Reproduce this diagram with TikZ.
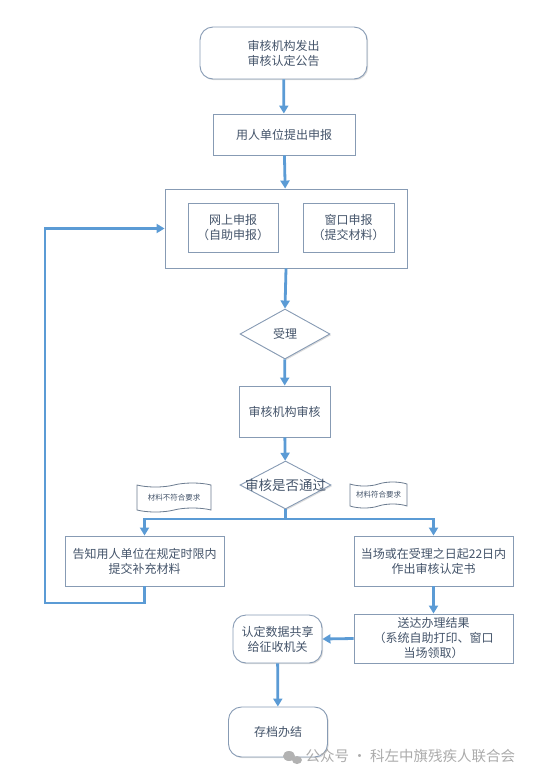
\documentclass[tikz,border=0pt]{standalone}
\usepackage{fontspec}
\setmainfont{Noto Sans CJK SC}
\usetikzlibrary{arrows.meta,shapes.geometric,shapes.symbols,shadows}
\definecolor{boxline}{RGB}{135,155,180}
\definecolor{flowblue}{RGB}{91,155,213}
\definecolor{boxtext}{RGB}{68,84,106}

\tikzset{
  box/.style={draw=boxline, line width=0.9pt, fill=white, text=boxtext, align=center,
    inner sep=0pt, font=\fontsize{12}{15}\selectfont,
    drop shadow={shadow xshift=1.2pt, shadow yshift=-1.2pt, fill=black!30, opacity=0.45}},
  roundbox/.style={box, rounded corners=13pt},
  decision/.style={box, diamond, aspect=1.8},
  tag/.style={draw=boxline!80!black, line width=0.8pt, fill=white, text=boxtext, tape,
    tape bend height=4pt, inner sep=0pt, font=\fontsize{7.5}{9}\selectfont},
  flow/.style={draw=flowblue, line width=2.8pt, -{Triangle[width=9pt,length=8pt]}},
  link/.style={draw=flowblue, line width=2.8pt}
}

\begin{document}
\begin{tikzpicture}[x=1pt,y=-1pt]
  \useasboundingbox (0,0) rectangle (533,777);

  % top part
  \node[roundbox, minimum width=167, minimum height=52] (notice) at (283.5,53) {审核机构发出\\审核认定公告};
  \node[box, minimum width=142, minimum height=41] (apply) at (284,134.5) {用人单位提出申报};
  \node[box, minimum width=242, minimum height=79] (outer) at (286,228.5) {};
  \node[box, minimum width=90, minimum height=49] (online) at (233,227.5) {网上申报\\（自助申报）};
  \node[box, minimum width=91, minimum height=49] (window) at (348.5,227.5) {窗口申报\\（提交材料）};

  % review
  \node[decision, minimum width=90, minimum height=50] (accept) at (285,334) {受理};
  \node[box, minimum width=91, minimum height=51] (review) at (284.5,411.5) {审核机构审核};
  \node[decision, minimum width=91, minimum height=48,
    label={[text=boxtext, font=\fontsize{13.5}{15}\selectfont]center:审核是否通过}] (pass) at (285.5,485) {};
  \coordinate (branch) at (285.5,519);

  \node[tag, minimum width=74, minimum height=29] (nofit) at (174,497.5) {材料不符合要求};
  \node[tag, minimum width=57, minimum height=26] (fit) at (378.5,495) {材料符合要求};

  % results
  \node[box, minimum width=159, minimum height=50] (notify) at (144.5,561) {告知用人单位在规定时限内\\提交补充材料};
  \node[box, minimum width=159, minimum height=50] (decide) at (433.5,561) {当场或在受理之日起22日内\\作出审核认定书};
  \node[box, minimum width=159, minimum height=49] (deliver) at (433.5,638.5) {送达办理结果\\（系统自助打印、窗口\\当场领取）};
  \node[roundbox, minimum width=89, minimum height=48] (share) at (277.5,639) {认定数据共享\\给征收机关};
  \node[roundbox, minimum width=99, minimum height=50] (archive) at (278,732) {存档办结};

  \coordinate (loopa) at (144.5,603);
  \coordinate (loopb) at (45,603);
  \coordinate (loopc) at (45,228.5);

  \draw[flow] (notice) -- (apply);
  \draw[flow] (apply) -- (outer);
  \draw[flow] (outer.south) -- (accept.north);
  \draw[flow] (accept) -- (review);
  \draw[flow] (review) -- (pass);
  \draw[link] (pass.south) -- (branch);
  \draw[flow] (branch) -| (notify.north);
  \draw[flow] (branch) -| (decide.north);
  \draw[flow] (decide) -- (deliver);
  \draw[flow] (deliver.west) -- (share.east);
  \draw[flow] (share) -- (archive);
  \draw[flow] (notify.south) -- (loopa) -- (loopb) -- (loopc) -- (outer.west);

  % watermark
  \fill[black!30] (289,756) ellipse (6 and 5);
  \fill[black!30] (297,760) ellipse (5 and 4);
  \node[text=black!33, font=\fontsize{14.5}{16}\selectfont, anchor=west] (mark) at (302,756) {公众号 · 科左中旗残疾人联合会};
\end{tikzpicture}
\end{document}
